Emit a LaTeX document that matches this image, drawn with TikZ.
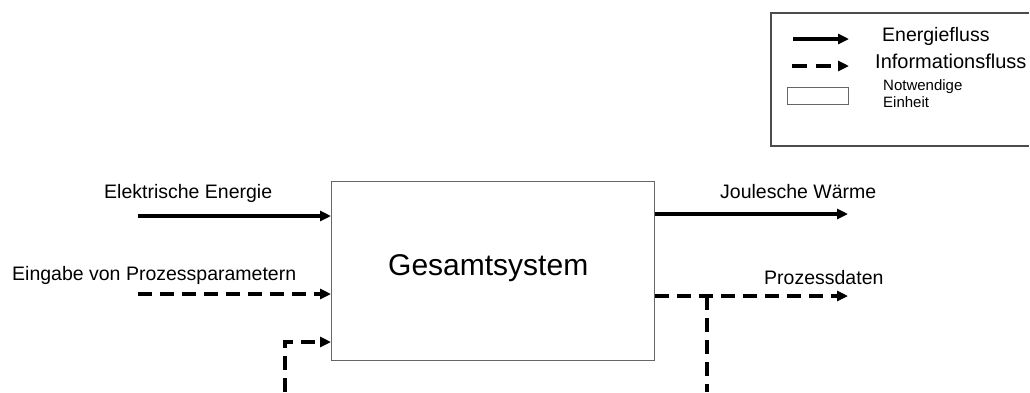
\documentclass[tikz,border=0pt]{standalone}
\usepackage{fontspec}
\setmainfont{Liberation Sans}
\usetikzlibrary{arrows.meta}

\begin{document}
\begin{tikzpicture}[x=1pt,y=-1pt,
  flow/.style={line width=3.3pt,-{Triangle[length=11pt,width=10pt]}},
  info/.style={flow,dash pattern=on 14pt off 8pt},
  unit/.style={draw=black!60,line width=1.2pt,inner sep=0pt,anchor=north west},
  lbl/.style={anchor=base west,inner sep=0pt,font=\fontsize{19.5}{23}\selectfont},
  small/.style={anchor=base west,inner sep=0pt,font=\fontsize{15}{18}\selectfont},
]
\useasboundingbox (0,0) rectangle (1030,392);

% legend frame, open towards the right border
\coordinate (lgTR) at (1029,13);
\coordinate (lgTL) at (771,13);
\coordinate (lgBL) at (771,146);
\coordinate (lgBR) at (1029,146);
\draw[draw=black!70,line width=1.4pt] (lgTR) -- (lgTL) -- (lgBL) -- (lgBR);
\coordinate (lgE1) at (793,39);  \coordinate (lgE2) at (849,39);
\coordinate (lgI1) at (792,66);  \coordinate (lgI2) at (849,66);
\draw[flow] (lgE1) -- (lgE2);
\draw[info,dash pattern=on 15pt off 9pt] (lgI1) -- (lgI2);
\node[unit,minimum width=61pt,minimum height=17pt] (lgU) at (787,87) {};
\node[lbl] (tE) at (882,41) {Energiefluss};
\node[lbl,font=\fontsize{20}{24}\selectfont] (tI) at (875,68) {Informationsfluss};
\node[small] (tN) at (883,90) {Notwendige};
\node[small] (tU) at (883,107) {Einheit};

% overall system
\node[unit,minimum width=323pt,minimum height=179pt] (sys) at (331,181) {};
\node[anchor=base west,inner sep=0pt,font=\fontsize{30}{36}\selectfont]
  (sysT) at (388,275) {Gesamtsystem};

% inputs
\coordinate (inE) at (138,216);
\coordinate (inP) at (138,294);
\coordinate (fbL) at (285,392);
\draw[flow] (inE) -- (sys.west |- inE);
\draw[info] (inP) -- (sys.west |- inP);
\draw[info] (fbL) |- (sys.west |- 0,342);
\node[lbl] (tEl) at (104,198) {Elektrische Energie};
\node[lbl] (tEin) at (12,280) {Eingabe von Prozessparametern};

% outputs
\coordinate (outW) at (848,214);
\coordinate (outD) at (848,296);
\coordinate (split) at (707,296);
\coordinate (fbR) at (707,392);
\draw[flow] (sys.east |- outW) -- (outW);
\draw[info] (sys.east |- outD) -- (outD);
\draw[line width=3.3pt,dash pattern=on 14pt off 8pt] (split) -- (fbR);
\node[lbl] (tJ) at (720,198) {Joulesche Wärme};
\node[lbl] (tP) at (764,284) {Prozessdaten};
\end{tikzpicture}
\end{document}
